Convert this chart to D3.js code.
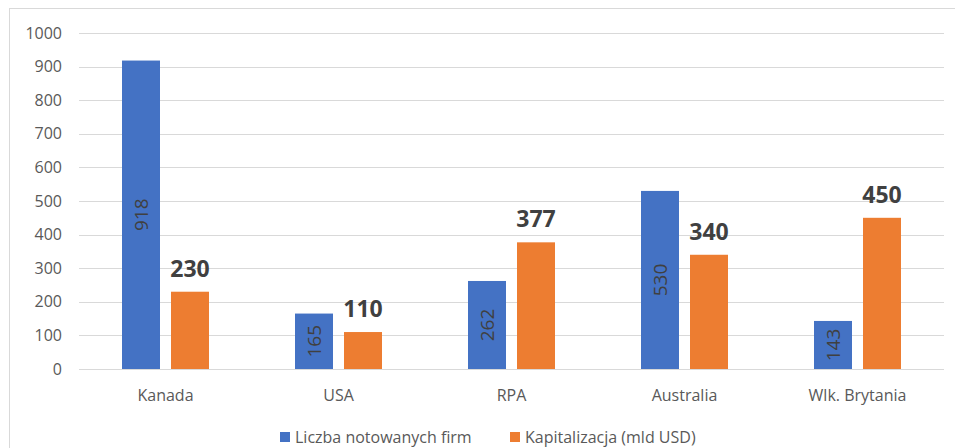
<!DOCTYPE html>
<html>
<head>
<meta charset="utf-8">
<script src="https://cdn.jsdelivr.net/npm/d3@7"></script>
<style>
  body { margin: 0; background: #fff; }
  svg { display: block; font-family: "Open Sans", sans-serif; }
</style>
</head>
<body>
<div class="canvas"></div>
<script>
const categories = ['Kanada', 'USA', 'RPA', 'Australia', 'Wlk. Brytania'];
const firms = [918, 165, 262, 530, 143];
const capital = [230, 110, 377, 340, 450];
const seriesNames = ['Liczba notowanych firm', 'Kapitalizacja (mld USD)'];
const yTicks = [0, 100, 200, 300, 400, 500, 600, 700, 800, 900, 1000];

const WIDTH = 955;
const HEIGHT = 448;
const plot = { left: 79, right: 944, top: 33, bottom: 369 };
const colors = ['#4472C4', '#ED7D31'];
const AXIS_FONT = 16;

const svg = d3.select('.canvas')
    .append('svg')
    .attr('width', WIDTH)
    .attr('height', HEIGHT);

// chart frame
svg.append('rect')
    .attr('x', 9.5)
    .attr('y', 8.5)
    .attr('width', WIDTH)
    .attr('height', HEIGHT)
    .attr('fill', 'none')
    .attr('stroke', '#d9d9d9');

const x = d3.scaleBand()
    .domain(categories)
    .range([plot.left, plot.right]);

const y = d3.scaleLinear()
    .domain([0, 1000])
    .range([plot.bottom, plot.top]);

// gridlines
svg.append('g')
    .selectAll('line')
    .data(yTicks)
    .join('line')
    .attr('x1', plot.left)
    .attr('x2', plot.right)
    .attr('y1', d => Math.round(y(d)) + 0.5)
    .attr('y2', d => Math.round(y(d)) + 0.5)
    .attr('stroke', '#d9d9d9')
    .attr('stroke-width', 1);

// y axis labels
const yAxis = svg.append('g')
    .attr('transform', `translate(${plot.left - 17}, 0)`)
    .call(d3.axisLeft(y).tickValues(yTicks).tickFormat(d3.format('d')).tickSize(0).tickPadding(0));
yAxis.select('.domain').remove();
yAxis.selectAll('text')
    .attr('font-size', AXIS_FONT)
    .attr('font-family', '"Open Sans", sans-serif')
    .attr('fill', '#595959');

// x axis labels
const xAxis = svg.append('g')
    .attr('transform', `translate(0, ${plot.bottom})`)
    .call(d3.axisBottom(x).tickSize(0).tickPadding(0));
xAxis.select('.domain').remove();
xAxis.selectAll('text')
    .attr('y', 32)
    .attr('dy', 0)
    .attr('font-size', AXIS_FONT)
    .attr('font-family', '"Open Sans", sans-serif')
    .attr('fill', '#595959');

const BAR_W = 38;
const GAP = 11;

const rows = categories.map((c, i) => ({ cat: c, firms: firms[i], capital: capital[i] }));

// blue bars
svg.append('g')
    .selectAll('rect')
    .data(rows)
    .join('rect')
    .attr('x', d => x(d.cat) + x.bandwidth() / 2 - GAP / 2 - BAR_W)
    .attr('y', d => y(d.firms))
    .attr('width', BAR_W)
    .attr('height', d => y(0) - y(d.firms))
    .attr('fill', colors[0]);

// orange bars
svg.append('g')
    .selectAll('rect')
    .data(rows)
    .join('rect')
    .attr('x', d => x(d.cat) + x.bandwidth() / 2 + GAP / 2)
    .attr('y', d => y(d.capital))
    .attr('width', BAR_W)
    .attr('height', d => y(0) - y(d.capital))
    .attr('fill', colors[1]);

// rotated labels inside blue bars
svg.append('g')
    .selectAll('text')
    .data(rows)
    .join('text')
    .attr('transform', d => {
        const cx = x(d.cat) + x.bandwidth() / 2 - GAP / 2 - BAR_W / 2;
        const cy = (y(d.firms) + y(0)) / 2;
        return `translate(${cx}, ${cy}) rotate(-90)`;
    })
    .attr('text-anchor', 'middle')
    .attr('dy', '0.36em')
    .attr('font-size', 19)
    .attr('fill', '#404040')
    .text(d => d.firms);

// bold labels above orange bars
svg.append('g')
    .selectAll('text')
    .data(rows)
    .join('text')
    .attr('x', d => x(d.cat) + x.bandwidth() / 2 + GAP / 2 + BAR_W / 2)
    .attr('y', d => y(d.capital) - 15)
    .attr('text-anchor', 'middle')
    .attr('font-size', 23)
    .attr('font-weight', 'bold')
    .attr('fill', '#404040')
    .text(d => d.capital);

// legend
const legend = svg.append('g')
    .attr('transform', 'translate(280, 437)');
const legendX = [0, 230];
seriesNames.forEach((name, i) => {
    const g = legend.append('g').attr('transform', `translate(${legendX[i]}, 0)`);
    g.append('rect')
        .attr('x', 0)
        .attr('y', -5)
        .attr('width', 10)
        .attr('height', 10)
        .attr('fill', colors[i]);
    g.append('text')
        .attr('x', 15)
        .attr('dy', '0.36em')
        .attr('font-size', AXIS_FONT)
        .attr('fill', '#595959')
        .text(name);
});
</script>
</body>
</html>
